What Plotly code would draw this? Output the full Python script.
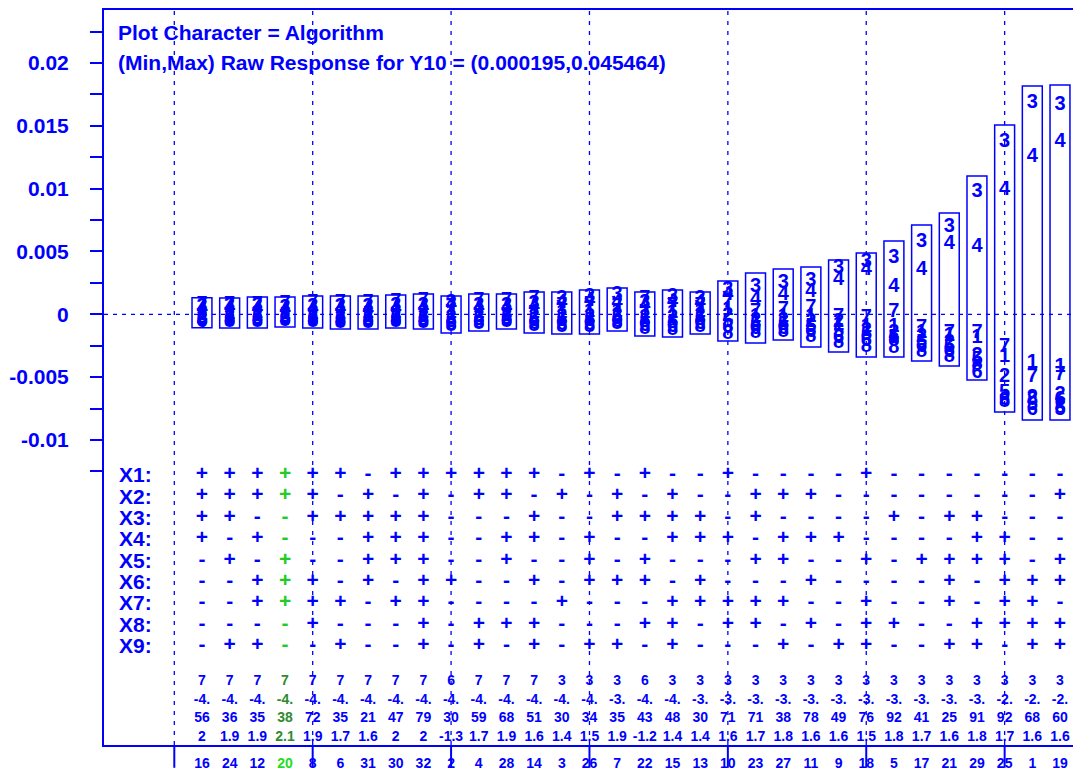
import plotly.graph_objects as go

BLUE = "#0000FF"
GREEN_SYM = "#22CC22"
GREEN_TXT = "#2E8B2E"
GREEN_RUN = "#22DD22"
FONT = "Liberation Sans, Arial, sans-serif"
UNIT = 1e-3  # algorithm values below are given in units of 1e-3

columns = list(range(1, 33))
run_ids = [16, 24, 12, 20, 8, 6, 31, 30, 32, 2, 4, 28, 14, 3, 26, 7, 22, 15, 13, 10,
           23, 27, 11, 9, 18, 5, 17, 21, 29, 25, 1, 19]
highlight_run = 20

# response per algorithm (plot character = algorithm number), x 1e-3
alg1 = [-0.06, 0.02, 0.10, 0.02, 0.02, 0.02, 0.10, 0.10, 0.10, 0.10, 0.10, 0.18, 0.10, 0.10, 0.18, 0.18,
        0.10, 0.10, 0.18, 0.34, -0.21, -0.21, -0.21, -0.85, -1.01, -1.01, -1.49, -1.73, -1.89, -3.40, -3.88, -4.19]
alg2 = [-0.29, -0.21, -0.14, -0.21, -0.21, -0.29, -0.21, -0.21, -0.21, -0.29, -0.21, -0.14, -0.21, -0.21, -0.21, -0.14,
        -0.29, -0.29, -0.14, -0.14, -0.53, -0.53, -0.61, -0.61, -1.33, -1.49, -1.81, -2.28, -3.32, -4.99, -6.66, -6.42]
alg3 = [0.58, 0.66, 0.66, 0.50, 0.58, 0.58, 0.58, 0.66, 0.66, 0.90, 0.66, 0.66, 0.82, 1.22, 1.38, 1.54,
        0.90, 1.38, 1.22, 1.93, 2.17, 2.49, 2.65, 3.68, 4.16, 4.48, 5.75, 6.95, 9.73, 13.71, 16.81, 16.65]
alg4 = [0.42, 0.50, 0.42, 0.34, 0.42, 0.42, 0.34, 0.42, 0.50, 0.74, 0.50, 0.50, 0.58, 0.90, 1.06, 0.90,
        0.66, 0.98, 0.90, 1.54, 1.14, 1.54, 1.77, 2.73, 3.52, 2.17, 3.52, 5.59, 5.36, 9.89, 12.52, 13.71]
alg5 = [-0.45, -0.37, -0.37, -0.37, -0.37, -0.45, -0.45, -0.37, -0.45, -0.61, -0.45, -0.37, -0.53, -0.53, -0.53, -0.37,
        -0.61, -0.69, -0.45, -0.61, -0.85, -0.85, -1.01, -1.41, -1.65, -1.89, -2.28, -2.60, -3.64, -6.26, -7.22, -7.62]
alg6 = [-0.61, -0.53, -0.53, -0.45, -0.53, -0.61, -0.61, -0.53, -0.61, -0.85, -0.69, -0.53, -0.77, -0.85, -0.85, -0.61,
        -0.93, -1.01, -0.77, -1.09, -1.17, -1.17, -1.41, -1.89, -2.12, -2.12, -2.60, -3.00, -4.67, -6.82, -7.62, -6.82]
alg7 = [0.74, 0.74, 0.74, 0.82, 0.90, 0.90, 0.90, 0.98, 1.06, 0.58, 1.06, 1.06, 1.22, 0.66, 0.74, 0.58,
        1.22, 0.66, 0.66, 0.98, 0.18, 0.34, 0.50, -0.21, -0.29, 0.18, -1.09, -1.49, -1.49, -2.60, -4.99, -4.83]
alg8 = [-0.53, -0.61, -0.61, -0.53, -0.61, -0.69, -0.69, -0.61, -0.69, -0.93, -0.77, -0.61, -0.93, -1.01, -1.01, -0.77,
        -1.17, -1.25, -1.01, -1.57, -1.49, -1.41, -1.81, -2.28, -2.60, -2.68, -3.00, -3.40, -4.03, -6.98, -6.82, -7.46]
algorithms = {"1": alg1, "2": alg2, "3": alg3, "4": alg4, "5": alg5, "6": alg6, "7": alg7, "8": alg8}

# enclosing box per run, x 1e-3
box_hi = [1.32, 1.30, 1.38, 1.38, 1.46, 1.46, 1.46, 1.54, 1.62, 1.46, 1.62, 1.62, 1.77, 1.77, 1.93, 2.09,
          1.77, 1.93, 1.77, 2.65, 3.29, 3.60, 3.76, 4.32, 4.88, 5.83, 7.11, 8.06, 11.00, 15.06, 18.17, 18.25]
box_lo = [-1.07, -1.09, -1.09, -1.01, -1.09, -1.17, -1.17, -1.09, -1.17, -1.49, -1.33, -1.17, -1.49, -1.57, -1.57, -1.33,
          -1.73, -1.81, -1.57, -2.12, -2.28, -2.05, -2.60, -3.00, -3.40, -3.40, -3.72, -4.11, -5.23, -7.77, -8.41, -8.41]

# design matrix (+ / -) per factor
X1 = "++++++-++++++-" + "+-+--+----+-------"
X2 = "+++++-+-+-++-+" + "-+-+--+++--------+"
X3 = "++--+++++---+-" + "-++++-+----+-++---"
X4 = "+-+---+++--++-" + "+--+++-+++----++--"
X5 = "-+-+--+++--+--" + "+-+---++--+-++++-+"
X6 = "--+++-+-++--+-" + "+++-+---+----+-+++"
X7 = "--++++-++----+" + "---+++++--+--+-++-"
X8 = "----+---+-+++-" + "--++-++-+-++--++++"
X9 = "-++--+--+-+-+-" + "++-+---+-++--++-++"
design = [("X1:", X1), ("X2:", X2), ("X3:", X3), ("X4:", X4), ("X5:", X5),
          ("X6:", X6), ("X7:", X7), ("X8:", X8), ("X9:", X9)]

# statistic rows under the design matrix
row_a = ["7", "7", "7", "7", "7", "7", "7", "7", "7", "6", "7", "7", "7", "3", "3", "3",
         "6", "3", "3", "3", "3", "3", "3", "3", "3", "3", "3", "3", "3", "3", "3", "3"]
row_b = ["-4.", "-4.", "-4.", "-4.", "-4.", "-4.", "-4.", "-4.", "-4.", "-4.", "-4.", "-4.", "-4.", "-4.", "-4.", "-3.",
         "-4.", "-4.", "-3.", "-3.", "-3.", "-3.", "-3.", "-3.", "-3.", "-3.", "-3.", "-3.", "-3.", "-2.", "-2.", "-2."]
row_c = ["56", "36", "35", "38", "72", "35", "21", "47", "79", "30", "59", "68", "51", "30", "34", "35",
         "43", "48", "30", "71", "71", "38", "78", "49", "76", "92", "41", "25", "91", "92", "68", "60"]
row_d = ["2", "1.9", "1.9", "2.1", "1.9", "1.7", "1.6", "2", "2", "-1.3", "1.7", "1.9", "1.6", "1.4", "1.5", "1.9",
         "-1.2", "1.4", "1.4", "1.6", "1.7", "1.8", "1.6", "1.6", "1.5", "1.8", "1.7", "1.6", "1.8", "1.7", "1.6", "1.6"]
stat_rows = [("A", row_a), ("B", row_b), ("C", row_c), ("D", row_d)]

y_tickvals = [-0.0125, -0.01, -0.0075, -0.005, -0.0025, 0, 0.0025, 0.005, 0.0075, 0.01, 0.0125, 0.015, 0.0175, 0.02, 0.0225]
y_ticktext = ["", "-0.01", "", "-0.005", "", "0", "", "0.005", "", "0.01", "", "0.015", "", "0.02", ""]
grid_cols = [0, 5, 10, 15, 20, 25, 30]

fig = go.Figure()

# algorithm characters
for ch, vals in algorithms.items():
    fig.add_trace(go.Scatter(
        x=columns, y=[v * UNIT for v in vals], mode="text", text=[ch] * len(vals),
        textposition="middle center", cliponaxis=False, showlegend=False, hoverinfo="skip",
        textfont=dict(family=FONT, size=20, color=BLUE, weight="bold")))

hl_idx = run_ids.index(highlight_run)

# design matrix
for name, signs in design:
    cols_c = [GREEN_SYM if i == hl_idx else BLUE for i in range(len(signs))]
    fig.add_trace(go.Scatter(
        x=columns, y=[name] * len(signs), yaxis="y2", mode="text", text=list(signs),
        textposition="middle center", cliponaxis=False, showlegend=False, hoverinfo="skip",
        textfont=dict(family=FONT, size=21, color=cols_c, weight="bold")))

# statistics rows
for name, vals in stat_rows:
    cols_c = [GREEN_TXT if i == hl_idx else BLUE for i in range(len(vals))]
    fig.add_trace(go.Scatter(
        x=columns, y=[name] * len(vals), yaxis="y3", mode="text", text=vals,
        textposition="middle center", cliponaxis=False, showlegend=False, hoverinfo="skip",
        textfont=dict(family=FONT, size=14, color=cols_c, weight="bold")))

shapes = []
half_w = 0.36
for c, lo, hi in zip(columns, box_lo, box_hi):
    shapes.append(dict(type="rect", xref="x", yref="y", x0=c - half_w, x1=c + half_w,
                       y0=lo * UNIT, y1=hi * UNIT, line=dict(color=BLUE, width=1.5), layer="below"))
for g in grid_cols:
    shapes.append(dict(type="line", xref="x", yref="paper", x0=g, x1=g, y0=0, y1=1,
                       line=dict(color=BLUE, width=1.3, dash="4px,6px"), layer="below"))
    shapes.append(dict(type="line", xref="x", yref="paper", x0=g, x1=g, y0=-0.031, y1=0,
                       line=dict(color=BLUE, width=2)))
shapes.append(dict(type="line", xref="paper", yref="y", x0=0, x1=1, y0=0, y1=0,
                   line=dict(color=BLUE, width=1.3, dash="4px,5px"), layer="below"))

ticktext = [f"<span style='color:{GREEN_RUN}'>{r}</span>" if r == highlight_run else str(r) for r in run_ids]
design_names = [d[0] for d in design]

fig.update_layout(
    width=1073, height=774,
    margin=dict(l=104, r=0, t=10, b=29),
    paper_bgcolor="white", plot_bgcolor="rgba(0,0,0,0)",
    shapes=shapes,
    showlegend=False,
    xaxis=dict(range=[-2.54, 32.47], domain=[0, 1], showgrid=False, zeroline=False,
               showline=True, mirror=True, linecolor=BLUE, linewidth=2,
               tickmode="array", tickvals=columns, ticktext=ticktext, ticks="",
               ticklabelstandoff=4,
               tickfont=dict(family=FONT, size=14, color=BLUE, weight="bold")),
    yaxis=dict(range=[-0.034273, 0.024214], domain=[0, 1], showgrid=False, zeroline=False,
               showline=True, linecolor=BLUE, linewidth=2,
               tickmode="array", tickvals=y_tickvals, ticktext=y_ticktext,
               ticks="outside", ticklen=12, tickwidth=1.5, tickcolor=BLUE,
               ticklabelstandoff=17,
               tickfont=dict(family=FONT, size=21, color=BLUE, weight="bold")),
    yaxis2=dict(type="category", categoryorder="array",
                categoryarray=design_names[::-1],
                tickmode="array", tickvals=design_names, ticktext=design_names,
                range=[-1.366, 9.634], domain=[0.09515, 0.41510], anchor="x",
                showgrid=False, zeroline=False, showline=False, ticks="",
                ticklabelposition="inside", ticklabelstandoff=12,
                tickfont=dict(family=FONT, size=21, color=BLUE, weight="bold")),
    yaxis3=dict(type="category", categoryorder="array",
                categoryarray=[s[0] for s in stat_rows][::-1],
                range=[-0.405, 3.595], domain=[0, 0.1011], anchor="x",
                showgrid=False, zeroline=False, showline=False, ticks="",
                showticklabels=False),
    annotations=[
        dict(xref="paper", yref="paper", x=0.0125, y=0.970, xanchor="left", yanchor="middle",
             text="Plot Character = Algorithm", showarrow=False,
             font=dict(family=FONT, size=21, color=BLUE, weight="bold")),
        dict(xref="paper", yref="paper", x=0.0125, y=0.928, xanchor="left", yanchor="middle",
             text="(Min,Max) Raw Response for Y10 = (0.000195,0.045464)", showarrow=False,
             font=dict(family=FONT, size=21, color=BLUE, weight="bold")),
    ],
)

fig.write_html("out.html", config={"displayModeBar": False},
               post_script="document.body.style.margin='0';document.body.style.overflow='hidden';")
